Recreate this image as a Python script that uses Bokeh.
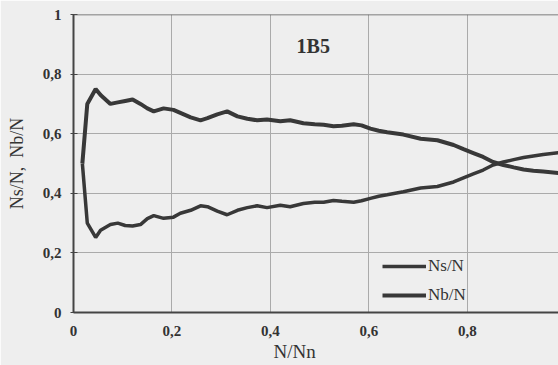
from bokeh.plotting import figure
from bokeh.models import Range1d, FixedTicker, Legend, LegendItem, Label, Span, Title
from bokeh.embed import file_html
from bokeh.resources import INLINE

# ---- data ----
x_vals = [0.018, 0.028, 0.045, 0.055, 0.075, 0.09, 0.105, 0.12, 0.136, 0.15,
          0.163, 0.183, 0.203, 0.217, 0.238, 0.258, 0.272, 0.292, 0.312, 0.333,
          0.353, 0.373, 0.393, 0.42, 0.44, 0.467, 0.49, 0.508, 0.528, 0.545,
          0.569, 0.585, 0.603, 0.62, 0.637, 0.67, 0.705, 0.739, 0.772, 0.792,
          0.812, 0.832, 0.852, 0.873, 0.894, 0.914, 0.934, 0.954, 0.985]
nb_vals = [0.50, 0.70, 0.75, 0.73, 0.70, 0.705, 0.71, 0.715, 0.70, 0.685,
           0.675, 0.685, 0.68, 0.67, 0.655, 0.645, 0.652, 0.665, 0.675, 0.658,
           0.65, 0.645, 0.648, 0.642, 0.645, 0.635, 0.632, 0.63, 0.625, 0.627,
           0.632, 0.628, 0.617, 0.61, 0.605, 0.597, 0.583, 0.578, 0.562, 0.548,
           0.535, 0.522, 0.505, 0.495, 0.487, 0.48, 0.476, 0.473, 0.468]
ns_vals = [0.50, 0.30, 0.252, 0.276, 0.295, 0.30, 0.292, 0.29, 0.295, 0.315,
           0.325, 0.316, 0.32, 0.333, 0.343, 0.358, 0.355, 0.34, 0.328, 0.343,
           0.352, 0.358, 0.352, 0.36, 0.355, 0.366, 0.37, 0.37, 0.376, 0.373,
           0.37, 0.375, 0.383, 0.39, 0.395, 0.405, 0.418, 0.423, 0.438, 0.452,
           0.465, 0.478, 0.495, 0.505, 0.513, 0.52, 0.525, 0.53, 0.536]
x_ticks = [0.0, 0.2, 0.4, 0.6, 0.8]
x_tick_labels = ["0", "0,2", "0,4", "0,6", "0,8"]
y_ticks = [0.0, 0.2, 0.4, 0.6, 0.8, 1.0]
y_tick_labels = ["0", "0,2", "0,4", "0,6", "0,8", "1"]
series_names = ["Ns/N", "Nb/N"]
chart_title = "1B5"
x_title = "N/Nn"
y_title = "Ns/N,\u00a0\u00a0Nb/N"

BG = "#eeeeee"
INK = "#333333"
LINE = "#383838"
FONT = "Liberation Serif"

p = figure(width=558, height=365, output_backend="svg", toolbar_location=None,
           x_range=Range1d(0, 0.985), y_range=Range1d(0, 1),
           min_border_left=73, min_border_right=0, min_border_top=14,
           min_border_bottom=53)
p.background_fill_color = BG
p.border_fill_color = BG
p.outline_line_color = None

# axes
p.xaxis.ticker = FixedTicker(ticks=x_ticks)
p.yaxis.ticker = FixedTicker(ticks=y_ticks)
p.xaxis.major_label_overrides = {float(t): l for t, l in zip(x_ticks, x_tick_labels)}
p.yaxis.major_label_overrides = {float(t): l for t, l in zip(y_ticks, y_tick_labels)}
for ax in (p.xaxis[0], p.yaxis[0]):
    ax.axis_line_color = "#444444"
    ax.axis_line_width = 2
    ax.minor_tick_line_color = None
    ax.major_label_text_font = FONT
    ax.major_label_text_font_style = "bold"
    ax.major_label_text_font_size = "15px"
    ax.major_label_text_color = INK
    ax.major_tick_line_color = "#444444"
p.xaxis.major_tick_in = 0
p.xaxis.major_tick_out = 0
p.xaxis.major_label_standoff = 13
p.yaxis.major_tick_in = 4
p.yaxis.major_tick_out = 3
p.yaxis.major_label_standoff = 9

p.yaxis.axis_label = y_title
p.yaxis.axis_label_text_font = FONT
p.yaxis.axis_label_text_font_style = "normal"
p.yaxis.axis_label_text_font_size = "18px"
p.yaxis.axis_label_text_color = INK
p.yaxis.axis_label_standoff = 13

# grid
p.xgrid.grid_line_color = "#aaaaaa"
p.ygrid.grid_line_color = "#aaaaaa"
p.xgrid.grid_line_width = 1
p.ygrid.grid_line_width = 1
p.add_layout(Span(location=1, dimension="width", line_color="#555555", line_width=1.5))

# lines
r_ns = p.line(x_vals, ns_vals, line_color=LINE, line_width=3.5)
r_nb = p.line(x_vals, nb_vals, line_color=LINE, line_width=4)

legend = Legend(items=[LegendItem(label=series_names[0], renderers=[r_ns]),
                       LegendItem(label=series_names[1], renderers=[r_nb])],
                location=(309, 7), padding=5, spacing=9, margin=0,
                glyph_width=44, glyph_height=20, label_standoff=2,
                label_text_font=FONT, label_text_font_size="17px",
                label_text_color=INK, border_line_color=None,
                background_fill_color=BG, background_fill_alpha=1.0)
p.add_layout(legend, "center")

# title label inside plot
p.add_layout(Label(x=0.487, y=0.894, text=chart_title, text_align="center",
                   text_baseline="middle", text_font=FONT,
                   text_font_style="bold", text_font_size="20px", text_color=INK))
# x axis title as a below-panel title, offset from the frame's left edge
p.add_layout(Title(text=x_title, align="left", offset=200, text_font=FONT,
                   text_font_style="normal", text_font_size="19px",
                   text_color=INK, standoff=0), "below")

open("out.html", "w").write(file_html(p, INLINE))
